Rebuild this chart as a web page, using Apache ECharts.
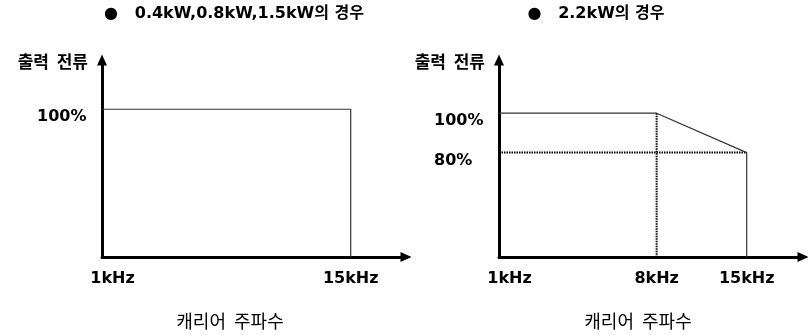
<!DOCTYPE html>
<html>
<head>
<meta charset="utf-8">
<script src="https://cdn.jsdelivr.net/npm/echarts@6/dist/echarts.min.js"></script>
<style>
  html, body { margin: 0; padding: 0; background: #fff; }
  #chart { width: 808px; height: 335px; }
</style>
</head>
<body>
<div id="chart"></div>
<script>
// Blank slots used to space the carrier-frequency tick labels along the axis
function gap(n) { return Array.from({ length: n }, () => ''); }

// Carrier frequency tick labels (schematic axis)
const leftFreqTicks = ['1kHz', ...gap(8), '15kHz', ...gap(2)];
const rightFreqTicks = ['1kHz', ...gap(13), '8kHz', ...gap(7), '15kHz', ...gap(5)];

// Output current tick labels (%)
const leftCurrentTicks = [100];
const rightCurrentTicks = [100, 80];

// 0.4kW, 0.8kW, 1.5kW: full current up to 15kHz
const leftFreq = ['1kHz', '15kHz', '15kHz'];
const leftCurrent = [100, 100, 0];

// 2.2kW: full current up to 8kHz, derated to 80% at 15kHz
const rightFreq = ['1kHz', '8kHz', '15kHz', '15kHz'];
const rightCurrent = [100, 100, 80, 0];

// Reference guides for the 2.2kW derating curve
const guideFreqV = ['8kHz', '8kHz'];
const guideCurrentV = [100, 0];
const guideFreqH = ['1kHz', '15kHz'];
const guideCurrentH = [80, 80];

const titles = ['●   0.4kW,0.8kW,1.5kW의 경우', '●   2.2kW의 경우'];
const yName = '출력  전류';
const xName = '캐리어  주파수';

const LATIN = "'DejaVu Sans', 'Noto Sans CJK KR', sans-serif";
const HANGUL = "'Noto Sans CJK KR', 'DejaVu Sans', sans-serif";

function pairs(xs, ys) { return xs.map((x, i) => [x, ys[i]]); }

function xAxisFor(gridIndex, ticks, namePadRight) {
  return {
    type: 'category',
    gridIndex,
    data: ticks,
    boundaryGap: false,
    axisLine: { show: true, symbol: ['none', 'triangle'], symbolSize: [10, 11], lineStyle: { color: '#000', width: 3 } },
    axisTick: { show: false },
    splitLine: { show: false },
    axisLabel: {
      interval: 0,
      margin: 14,
      color: '#000',
      fontSize: 16,
      fontWeight: 'bold',
      fontFamily: LATIN,
      formatter: (v, i) => (i === 0 ? '{first|' + v + '}' : v),
      rich: {
        first: { padding: [0, 0, 0, 21], color: '#000', fontSize: 16, fontWeight: 'bold', fontFamily: LATIN }
      }
    },
    name: xName,
    nameLocation: 'middle',
    nameGap: 55,
    nameTextStyle: { color: '#000', fontSize: 18, fontFamily: HANGUL, padding: [0, namePadRight, 0, 0] }
  };
}

function yAxisFor(gridIndex, min, max, ticks) {
  return {
    type: 'value',
    gridIndex,
    min, max,
    axisLine: { show: true, symbol: ['none', 'triangle'], symbolSize: [10, 11], lineStyle: { color: '#000', width: 3 } },
    axisTick: { show: false },
    splitLine: { show: false },
    axisLabel: {
      customValues: ticks,
      formatter: '{value}%',
      align: 'left',
      verticalAlign: 'top',
      margin: 65,
      color: '#000',
      fontSize: 16,
      fontWeight: 'bold',
      fontFamily: LATIN
    },
    name: yName,
    nameLocation: 'end',
    nameGap: -2,
    nameTextStyle: { color: '#000', fontSize: 17, fontWeight: 'bold', fontFamily: HANGUL, align: 'right', verticalAlign: 'middle', padding: [0, 14, 0, 0] }
  };
}

const thinLine = { color: '#333', width: 1.2 };
const dotLine = { color: '#000', width: 2, type: [1.5, 1] };

const chart = echarts.init(document.getElementById('chart'), null, { renderer: 'canvas' });
chart.setOption({
  animation: false,
  backgroundColor: '#fff',
  title: [
    { text: titles[0], left: 234, top: 6, textAlign: 'center', padding: 0,
      textStyle: { color: '#000', fontSize: 16, fontWeight: 'bold', fontFamily: LATIN } },
    { text: titles[1], left: 596, top: 6, textAlign: 'center', padding: 0,
      textStyle: { color: '#000', fontSize: 16, fontWeight: 'bold', fontFamily: LATIN } }
  ],
  grid: [
    { left: 102, top: 60, width: 304, bottom: 77 },
    { left: 499, top: 60, width: 304, bottom: 77 }
  ],
  xAxis: [xAxisFor(0, leftFreqTicks, 48), xAxisFor(1, rightFreqTicks, 26)],
  yAxis: [yAxisFor(0, 25, 125, leftCurrentTicks), yAxisFor(1, 27, 127, rightCurrentTicks)],
  series: [
    { type: 'line', xAxisIndex: 0, yAxisIndex: 0, data: pairs(leftFreq, leftCurrent),
      symbol: 'none', lineStyle: thinLine, z: 3 },
    { type: 'line', xAxisIndex: 1, yAxisIndex: 1, data: pairs(guideFreqV, guideCurrentV),
      symbol: 'none', lineStyle: dotLine, z: 2 },
    { type: 'line', xAxisIndex: 1, yAxisIndex: 1, data: pairs(guideFreqH, guideCurrentH),
      symbol: 'none', lineStyle: dotLine, z: 2 },
    { type: 'line', xAxisIndex: 1, yAxisIndex: 1, data: pairs(rightFreq, rightCurrent),
      symbol: 'none', lineStyle: thinLine, z: 3 }
  ]
});
</script>
</body>
</html>
